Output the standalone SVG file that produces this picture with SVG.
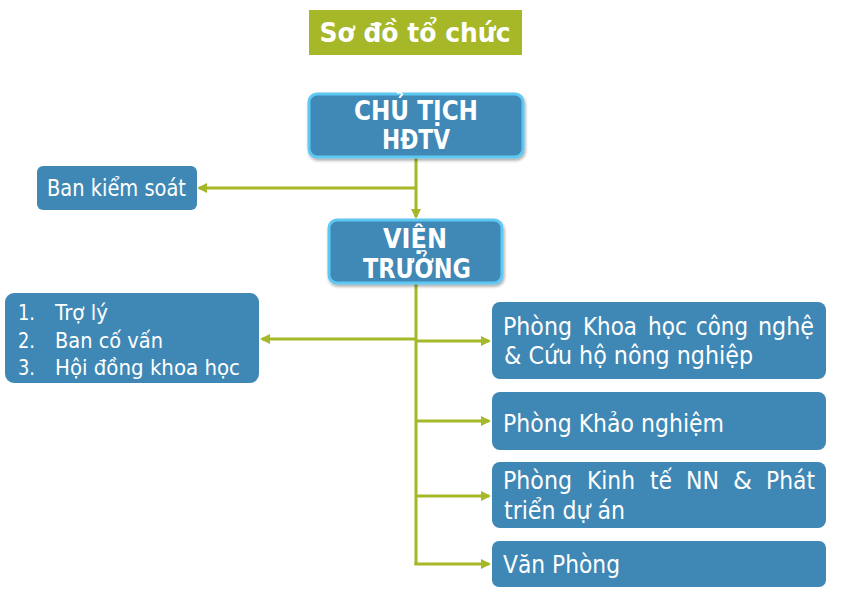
<svg xmlns="http://www.w3.org/2000/svg" width="850" height="602" viewBox="0 0 850 602">
<style>
.box{fill:#3f88b5}
.hbox{fill:#3f88b5;stroke:#5ec8f2;stroke-width:3}
.t{font-family:"DejaVu Sans","Liberation Sans",sans-serif;fill:#fff}
.b{font-weight:bold}
.c{fill:none;stroke:#a6b727;stroke-width:3}
.r{font-size:25px}
</style>
<defs>
<marker id="ah" markerWidth="10" markerHeight="10" refX="8" refY="5" orient="auto" markerUnits="userSpaceOnUse">
<path d="M0,0 L10,5 L0,10 z" fill="#a6b727"/>
</marker>
<filter id="sh" x="-10%" y="-10%" width="120%" height="130%">
<feDropShadow dx="1" dy="2" stdDeviation="1.5" flood-color="#000" flood-opacity="0.35"/>
</filter>
</defs>
<g id="title">
<rect x="309" y="10" width="213" height="45" fill="#a6b727"/>
<text class="t b" x="415" y="42" font-size="27" text-anchor="middle" textLength="191" lengthAdjust="spacingAndGlyphs">Sơ đồ tổ chức</text>
</g>
<g id="connectors">
<line class="c" x1="416" y1="158" x2="416" y2="217" marker-end="url(#ah)"/>
<line class="c" x1="416" y1="188" x2="199" y2="188" marker-end="url(#ah)"/>
<line class="c" x1="416" y1="284" x2="416" y2="565"/>
<line class="c" x1="416" y1="339" x2="262" y2="339" marker-end="url(#ah)"/>
<line class="c" x1="416" y1="341" x2="489" y2="341" marker-end="url(#ah)"/>
<line class="c" x1="416" y1="421" x2="489" y2="421" marker-end="url(#ah)"/>
<line class="c" x1="416" y1="496" x2="489" y2="496" marker-end="url(#ah)"/>
<line class="c" x1="414.5" y1="564" x2="489" y2="564" marker-end="url(#ah)"/>
</g>
<g id="chu-tich">
<rect class="hbox" x="309" y="94" width="214" height="63" rx="8" filter="url(#sh)"/>
<text class="t b" x="416" y="120" font-size="26" text-anchor="middle" textLength="124" lengthAdjust="spacingAndGlyphs">CHỦ TỊCH</text>
<text class="t b" x="416" y="149" font-size="26" text-anchor="middle" textLength="68" lengthAdjust="spacingAndGlyphs">HĐTV</text>
</g>
<g id="ban-kiem-soat">
<rect class="box" x="37" y="166" width="160" height="44" rx="6"/>
<text class="t" x="47" y="196" font-size="23" textLength="139" lengthAdjust="spacingAndGlyphs">Ban kiểm soát</text>
</g>
<g id="vien-truong">
<rect class="hbox" x="329" y="220" width="173" height="63" rx="8" filter="url(#sh)"/>
<text class="t b" x="415" y="248" font-size="26" text-anchor="middle" textLength="64" lengthAdjust="spacingAndGlyphs">VIỆN</text>
<text class="t b" x="417" y="278" font-size="26" text-anchor="middle" textLength="108" lengthAdjust="spacingAndGlyphs">TRƯỞNG</text>
</g>
<g id="tro-ly">
<rect class="box" x="5" y="293" width="254" height="90" rx="9"/>
<text class="t" x="18" y="320" font-size="22" textLength="17" lengthAdjust="spacingAndGlyphs">1.</text>
<text class="t" x="55" y="320" font-size="22" textLength="53" lengthAdjust="spacingAndGlyphs">Trợ lý</text>
<text class="t" x="18" y="348" font-size="22" textLength="17" lengthAdjust="spacingAndGlyphs">2.</text>
<text class="t" x="55" y="348" font-size="22" textLength="108" lengthAdjust="spacingAndGlyphs">Ban cố vấn</text>
<text class="t" x="18" y="375" font-size="22" textLength="17" lengthAdjust="spacingAndGlyphs">3.</text>
<text class="t" x="55" y="375" font-size="22" textLength="185" lengthAdjust="spacingAndGlyphs">Hội đồng khoa học</text>
</g>
<g id="phong-khcn">
<rect class="box" x="492" y="302" width="334" height="77" rx="8"/>
<text class="t r" y="335" lengthAdjust="spacingAndGlyphs"><tspan x="503" textLength="69" lengthAdjust="spacingAndGlyphs">Phòng</tspan></text>
<text class="t r" y="335"><tspan x="583" textLength="54" lengthAdjust="spacingAndGlyphs">Khoa</tspan></text>
<text class="t r" y="335" x="648" textLength="39" lengthAdjust="spacingAndGlyphs">học</text>
<text class="t r" y="335" x="696" textLength="52" lengthAdjust="spacingAndGlyphs">công</text>
<text class="t r" y="335" x="758" textLength="56" lengthAdjust="spacingAndGlyphs">nghệ</text>
<text class="t r" x="504" y="364" textLength="249" lengthAdjust="spacingAndGlyphs">&amp; Cứu hộ nông nghiệp</text>
</g>
<g id="phong-khao-nghiem">
<rect class="box" x="492" y="392" width="334" height="58" rx="8"/>
<text class="t r" x="503" y="432" textLength="221" lengthAdjust="spacingAndGlyphs">Phòng Khảo nghiệm</text>
</g>
<g id="phong-kinh-te">
<rect class="box" x="492" y="462" width="334" height="66" rx="8"/>
<text class="t r" y="489" x="503" textLength="69" lengthAdjust="spacingAndGlyphs">Phòng</text>
<text class="t r" y="489" x="587" textLength="48" lengthAdjust="spacingAndGlyphs">Kinh</text>
<text class="t r" y="489" x="650" textLength="22" lengthAdjust="spacingAndGlyphs">tế</text>
<text class="t r" y="489" x="686" textLength="33" lengthAdjust="spacingAndGlyphs">NN</text>
<text class="t r" y="489" x="733" textLength="19" lengthAdjust="spacingAndGlyphs">&amp;</text>
<text class="t r" y="489" x="766" textLength="49" lengthAdjust="spacingAndGlyphs">Phát</text>
<text class="t r" x="504" y="519" textLength="121" lengthAdjust="spacingAndGlyphs">triển dự án</text>
</g>
<g id="van-phong">
<rect class="box" x="492" y="541" width="334" height="46" rx="7"/>
<text class="t r" x="503" y="573" textLength="117" lengthAdjust="spacingAndGlyphs">Văn Phòng</text>
</g>
</svg>
